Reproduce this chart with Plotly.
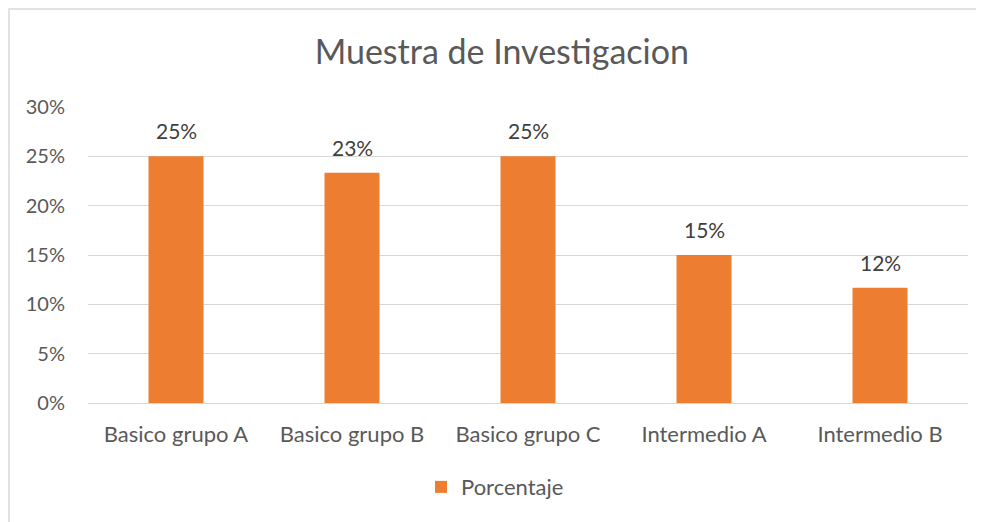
import plotly.graph_objects as go

categories = ["Basico grupo A", "Basico grupo B", "Basico grupo C", "Intermedio A", "Intermedio B"]
values = [0.25, 0.2333, 0.25, 0.15, 0.1167]
labels = ["25%", "23%", "25%", "15%", "12%"]
series_name = "Porcentaje"
y_ticks = [0, 0.05, 0.10, 0.15, 0.20, 0.25, 0.30]
y_tick_labels = ["0%", "5%", "10%", "15%", "20%", "25%", "30%"]

FONT = "Lato, 'Open Sans', sans-serif"
GREY = "#595959"
ORANGE = "#ED7D31"

fig = go.Figure()
fig.add_trace(go.Bar(
    x=categories, y=values, name=series_name,
    marker=dict(color=ORANGE, line=dict(width=0)),
    hoverinfo="skip",
))

for c, v, t in zip(categories, values, labels):
    fig.add_annotation(x=c, y=v, text=t, showarrow=False, yanchor="bottom",
                       yshift=11, font=dict(family=FONT, size=21, color="#404040"))

fig.update_layout(
    width=976, height=514,
    margin=dict(l=80, r=16, t=99, b=119),
    paper_bgcolor="white", plot_bgcolor="white",
    bargap=0.6875,
    title=dict(text="Muestra de Investigacion", x=0.506, xanchor="center",
               y=0.914, yanchor="middle",
               font=dict(family=FONT, size=34, color=GREY)),
    showlegend=True,
    legend=dict(orientation="h", x=0.4625, xanchor="center", y=-0.284, yanchor="middle",
                font=dict(family=FONT, size=22, color=GREY),
                itemwidth=30),
    xaxis=dict(showgrid=False, showline=True, linecolor="#D9D9D9", linewidth=1,
               ticks="", tickfont=dict(family=FONT, size=22, color=GREY),
               ticklabelstandoff=12),
    yaxis=dict(range=[0, 0.30], tickvals=y_ticks, ticktext=y_tick_labels,
               showgrid=True, gridcolor="#D9D9D9", gridwidth=1,
               zeroline=False, showline=False, ticks="",
               tickfont=dict(family=FONT, size=20, color=GREY),
               ticklabelstandoff=22),
    shapes=[dict(type="rect", xref="paper", yref="paper",
                 x0=-79 / 880, x1=1.05, y0=-0.6, y1=1 + 98 / 296,
                 line=dict(color="#D9D9D9", width=1.5), fillcolor="rgba(0,0,0,0)",
                 layer="below")],
)

fig.write_html("out.html")
